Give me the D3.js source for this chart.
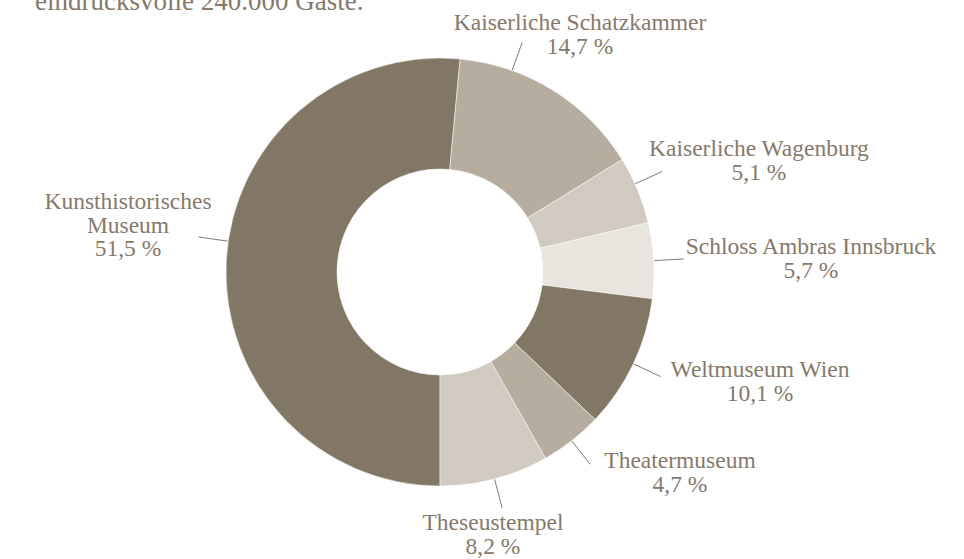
<!DOCTYPE html>
<html>
<head>
<meta charset="utf-8">
<script src="https://cdn.jsdelivr.net/npm/d3@7"></script>
<style>
  body { margin: 0; background: #fff; }
  svg { display: block; }
  text { font-family: "Liberation Serif", "Times New Roman", serif; fill: #86796a; }
</style>
</head>
<body>
<div id="chart"></div>
<script>
// data (share of visitors, %)
var museums = ["Kunsthistorisches Museum", "Kaiserliche Schatzkammer", "Kaiserliche Wagenburg",
  "Schloss Ambras Innsbruck", "Weltmuseum Wien", "Theatermuseum", "Theseustempel"];
var shares = [51.5, 14.7, 5.1, 5.7, 10.1, 4.7, 8.2];
var labelLines = [["Kunsthistorisches", "Museum"], ["Kaiserliche Schatzkammer"], ["Kaiserliche Wagenburg"],
  ["Schloss Ambras Innsbruck"], ["Weltmuseum Wien"], ["Theatermuseum"], ["Theseustempel"]];
var introText = "eindrucksvolle 240.000 Gäste.";

// styling / layout
var sliceColors = ["#827664", "#b6ad9e", "#d1cac0", "#e8e4de", "#827664", "#b6ad9e", "#d1cac0"];
// where the connector leaves each slice (0 = start, 1 = end of the slice)
var connectorPos = [0.53, 0.27, 0.40, 0.5, 0.5, 0.5, 0.5];
// label anchor (centre x, first baseline y)
var labelPos = [[128, 209], [580, 30], [759, 156], [811, 254], [760, 377], [680, 468], [493, 530]];

var svgWidth = 964;
var svgHeight = 559;
var cx = 440, cy = 272;
var outerR = 214, innerR = 103;
var lineH = 23.5;

var svg = d3.select("#chart")
  .append("svg")
  .attr("width", svgWidth)
  .attr("height", svgHeight);

// bit of the paragraph above the chart
svg.append("text")
  .attr("x", 35)
  .attr("y", 10)
  .style("font-size", "27px")
  .text(introText);

var data = museums.map(function(m, i) { return { name: m, value: shares[i], i: i }; });

var pie = d3.pie()
  .sort(null)
  .value(d => d.value)
  .startAngle(Math.PI)
  .endAngle(3 * Math.PI);

var arc = d3.arc().innerRadius(innerR).outerRadius(outerR);

var g = svg.append("g").attr("transform", `translate(${cx}, ${cy})`);

var arcs = pie(data);

g.selectAll("path")
  .data(arcs)
  .enter()
  .append("path")
  .attr("d", arc)
  .attr("fill", d => sliceColors[d.index])
  .attr("stroke", "#fff")
  .attr("stroke-width", 0.5);

// connectors, radial from the outer edge
g.selectAll("line.conn")
  .data(arcs)
  .enter()
  .append("line")
  .attr("class", "conn")
  .each(function(d) {
    var a = d.startAngle + (d.endAngle - d.startAngle) * connectorPos[d.index];
    d3.select(this)
      .attr("x1", Math.sin(a) * (outerR + 0.5))
      .attr("y1", -Math.cos(a) * (outerR + 0.5))
      .attr("x2", Math.sin(a) * (outerR + 30))
      .attr("y2", -Math.cos(a) * (outerR + 30));
  })
  .attr("stroke", "#86796a")
  .attr("stroke-width", 1);

// labels
var fmt = function(v) { return v.toFixed(1).replace(".", ",") + " %"; };

var labels = svg.append("g").selectAll("text.lbl")
  .data(arcs)
  .enter()
  .append("text")
  .attr("class", "lbl")
  .attr("text-anchor", "middle")
  .style("font-size", "23.5px")
  .attr("x", d => labelPos[d.index][0])
  .attr("y", d => labelPos[d.index][1]);

labels.each(function(d) {
  var t = d3.select(this);
  var lines = labelLines[d.index].concat([fmt(d.data.value)]);
  lines.forEach(function(l, k) {
    t.append("tspan")
      .attr("x", labelPos[d.index][0])
      .attr("y", labelPos[d.index][1] + k * lineH)
      .text(l);
  });
});
</script>
</body>
</html>
